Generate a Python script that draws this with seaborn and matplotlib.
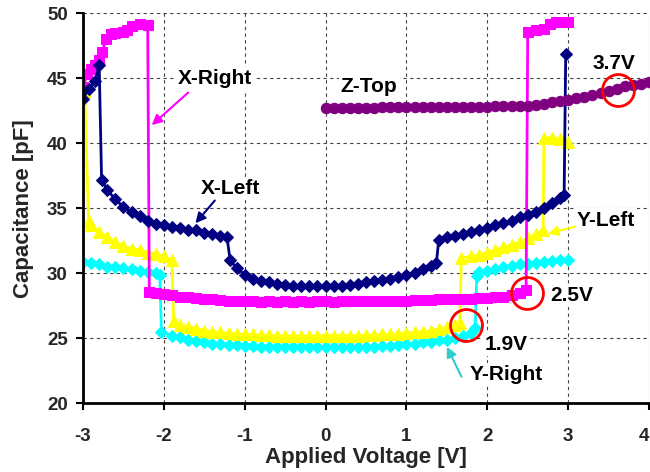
import matplotlib
matplotlib.use("Agg")
import matplotlib.pyplot as plt
import seaborn as sns
import numpy as np

# ---------------- data ----------------
xleft_v = [-3.0, -2.93, -2.85, -2.80, -2.77, -2.7, -2.6, -2.5, -2.4, -2.3, -2.2, -2.1, -2.0,
           -1.9, -1.8, -1.7, -1.6, -1.5, -1.4, -1.3, -1.22, -1.18, -1.1, -1.0, -0.9, -0.8,
           -0.7, -0.6, -0.5, -0.4, -0.3, -0.2, -0.1, 0.0, 0.1, 0.2, 0.3, 0.4, 0.5, 0.6, 0.7,
           0.8, 0.9, 1.0, 1.1, 1.2, 1.3, 1.37, 1.40, 1.5, 1.6, 1.7, 1.8, 1.9, 2.0, 2.1, 2.2,
           2.3, 2.4, 2.5, 2.6, 2.7, 2.8, 2.9, 2.95, 2.97]
xleft_c = [43.4, 44.2, 44.8, 46.0, 37.2, 36.4, 35.7, 35.1, 34.7, 34.4, 34.0, 33.8, 33.7,
           33.6, 33.5, 33.3, 33.3, 33.1, 33.0, 32.9, 32.8, 31.0, 30.4, 29.9, 29.6, 29.4,
           29.3, 29.2, 29.1, 29.0, 29.0, 29.0, 29.0, 29.0, 29.0, 29.05, 29.1, 29.15, 29.3, 29.4, 29.5,
           29.6, 29.7, 29.85, 30.0, 30.3, 30.6, 30.8, 32.6, 32.8, 32.9, 33.0, 33.2, 33.3, 33.5, 33.7, 33.9,
           34.0, 34.3, 34.5, 34.7, 35.0, 35.4, 35.8, 36.0, 46.9]

xright_v = [-3.0, -2.95, -2.9, -2.85, -2.8, -2.76, -2.72, -2.65, -2.6, -2.5, -2.45, -2.4, -2.3,
            -2.2, -2.18, -2.1, -2.0, -1.9, -1.8, -1.7, -1.6, -1.5, -1.4, -1.3, -1.2, -1.1, -1.0,
            -0.9, -0.8, -0.7, -0.6, -0.5, -0.4, -0.3, -0.2, -0.1, 0.0, 0.1, 0.2, 0.3, 0.4, 0.5,
            0.6, 0.7, 0.8, 0.9, 1.0, 1.1, 1.2, 1.3, 1.4, 1.5, 1.6, 1.7, 1.8, 1.9, 2.0, 2.1, 2.2,
            2.3, 2.4, 2.48, 2.50, 2.6, 2.7, 2.77, 2.85, 2.95, 3.0]
xright_c = [44.3, 45.3, 45.7, 46.0, 46.4, 47.0, 48.0, 48.4, 48.5, 48.6, 48.7, 49.0, 49.2,
            49.1, 28.6, 28.5, 28.4, 28.3, 28.2, 28.15, 28.1, 28.0, 28.0, 27.95, 27.9, 27.9, 27.85,
            27.85, 27.8, 27.85, 27.8, 27.85, 27.8, 27.85, 27.8, 27.85, 27.85, 27.8, 27.85, 27.85, 27.85, 27.9,
            27.85, 27.9, 27.9, 27.9, 27.9, 27.95, 27.95, 27.95, 28.0, 28.0, 28.0, 28.05, 28.05, 28.1, 28.1, 28.15, 28.2,
            28.3, 28.5, 28.7, 48.6, 48.7, 48.8, 49.2, 49.3, 49.3, 49.3]

yleft_v = [-2.98, -2.93, -2.9, -2.8, -2.7, -2.6, -2.5, -2.4, -2.3, -2.2, -2.1, -2.0, -1.9,
           -1.88, -1.8, -1.7, -1.6, -1.5, -1.4, -1.3, -1.2, -1.1, -1.0, -0.9, -0.8, -0.7, -0.6,
           -0.5, -0.4, -0.3, -0.2, -0.1, 0.0, 0.1, 0.2, 0.3, 0.4, 0.5, 0.6, 0.7, 0.8, 0.9, 1.0,
           1.1, 1.2, 1.3, 1.4, 1.5, 1.6, 1.66, 1.68, 1.8, 1.9, 2.0, 2.1, 2.2, 2.3, 2.4, 2.5,
           2.6, 2.69, 2.7, 2.8, 2.9, 3.0]
yleft_c = [44.0, 34.0, 33.7, 33.2, 32.8, 32.4, 32.1, 31.9, 31.8, 31.6, 31.5, 31.3, 31.0,
           26.3, 26.0, 25.9, 25.75, 25.6, 25.5, 25.45, 25.4, 25.35, 25.3, 25.3, 25.25, 25.25, 25.2,
           25.2, 25.2, 25.2, 25.2, 25.2, 25.2, 25.2, 25.2, 25.2, 25.2, 25.25, 25.25, 25.3, 25.3, 25.35, 25.4,
           25.45, 25.5, 25.6, 25.7, 25.85, 26.0, 26.2, 31.2, 31.3, 31.4, 31.6, 31.8, 32.0, 32.2, 32.4, 32.7,
           33.0, 33.3, 40.4, 40.4, 40.3, 40.1]

yright_v = [-3.0, -2.9, -2.8, -2.7, -2.6, -2.5, -2.4, -2.3, -2.2, -2.1, -2.05, -2.03, -1.9,
            -1.8, -1.7, -1.6, -1.5, -1.4, -1.3, -1.2, -1.1, -1.0, -0.9, -0.8, -0.7, -0.6, -0.5,
            -0.4, -0.3, -0.2, -0.1, 0.0, 0.1, 0.2, 0.3, 0.4, 0.5, 0.6, 0.7, 0.8, 0.9, 1.0, 1.1,
            1.2, 1.3, 1.4, 1.5, 1.6, 1.7, 1.8, 1.85, 1.87, 1.9, 2.0, 2.1, 2.2, 2.3, 2.4, 2.5,
            2.6, 2.7, 2.8, 2.9, 3.0]
yright_c = [30.9, 30.8, 30.7, 30.5, 30.5, 30.4, 30.3, 30.2, 30.1, 30.0, 29.9, 25.5, 25.2,
            25.1, 24.9, 24.8, 24.7, 24.6, 24.55, 24.5, 24.45, 24.4, 24.4, 24.35, 24.35, 24.35, 24.3,
            24.3, 24.3, 24.3, 24.3, 24.3, 24.3, 24.3, 24.3, 24.35, 24.35, 24.35, 24.4, 24.4, 24.5, 24.55, 24.6,
            24.7, 24.75, 24.85, 24.9, 25.0, 25.2, 25.4, 25.8, 29.8, 30.1, 30.2, 30.35, 30.5, 30.6, 30.7, 30.75,
            30.8, 30.9, 30.95, 31.0, 31.05]

ztop_v = [0.0, 0.1, 0.2, 0.3, 0.4, 0.5, 0.6, 0.7, 0.8, 0.9, 1.0, 1.1, 1.2, 1.3, 1.4, 1.5, 1.6,
          1.7, 1.8, 1.9, 2.0, 2.1, 2.2, 2.3, 2.4, 2.5, 2.6, 2.7, 2.8, 2.9, 3.0, 3.1, 3.2, 3.3,
          3.4, 3.5, 3.6, 3.7, 3.8, 3.9, 4.0]
ztop_c = [42.75, 42.75, 42.75, 42.75, 42.75, 42.75, 42.75, 42.8, 42.8, 42.8, 42.8, 42.8, 42.8,
          42.8, 42.8, 42.8, 42.8, 42.8, 42.8, 42.8, 42.8, 42.85, 42.85, 42.85, 42.85, 42.9, 42.95,
          43.05, 43.15, 43.25, 43.35, 43.45, 43.55, 43.7, 43.85, 44.0, 44.2, 44.4, 44.5, 44.6, 44.7]

x_ticks = [-3, -2, -1, 0, 1, 2, 3, 4]
y_ticks = [20, 25, 30, 35, 40, 45, 50]

labels = ["X-Right", "X-Left", "Z-Top", "Y-Left", "Y-Right", "3.7V", "2.5V", "1.9V"]
label_pos = [(-1.37, 44.95), (-1.18, 36.5), (0.54, 44.35), (3.46, 34.1), (2.24, 22.2),
             (3.56, 46.15), (3.04, 28.3), (2.23, 24.5)]
arrows = [((-1.70, 43.9), (-2.15, 41.4), "#ff00ff"),
          ((-1.37, 35.6), (-1.61, 33.85), "#000080"),
          ((3.09, 33.6), (2.75, 33.05), "#ffff00"),
          ((1.68, 22.05), (1.50, 24.35), "#33cccc")]
circle_v = [3.62, 2.49, 1.74]
circle_c = [44.1, 28.46, 26.0]

# ---------------- style ----------------
sns.set_theme(style="white")
plt.rcParams['font.family'] = ['Liberation Sans', 'DejaVu Sans']
plt.rcParams['font.weight'] = 'bold'
plt.rcParams['axes.unicode_minus'] = False

fig = plt.figure(figsize=(6.5, 4.72), dpi=100)
ax = fig.add_axes([0.1277, 0.1455, 0.8708, 0.8263])

series = [
    (yright_v, yright_c, "#00ffff", "D", 6),
    (yleft_v, yleft_c, "#ffff00", "^", 8),
    (xright_v, xright_c, "#ff00ff", "s", 7.5),
    (xleft_v, xleft_c, "#000080", "D", 6),
    (ztop_v, ztop_c, "#800080", "o", 7.5),
]
for xs, ys, col, mk, ms in series:
    sns.lineplot(x=xs, y=ys, ax=ax, sort=False, estimator=None, color=col,
                 marker=mk, markersize=ms, markeredgecolor=col, linewidth=2)

ax.set_xlim(-3, 4)
ax.set_ylim(20, 50)
ax.set_xticks(x_ticks)
ax.set_yticks(y_ticks)
ax.grid(True, linestyle=(0, (3, 3)), color="#444444", linewidth=0.8)
for s in ["top", "right"]:
    ax.spines[s].set_visible(False)
for s in ["left", "bottom"]:
    ax.spines[s].set_color("black")
    ax.spines[s].set_linewidth(2)
ax.tick_params(axis='both', direction='out', length=5, width=1.5, color='black',
               labelsize=13.5, left=True, bottom=True)
ax.tick_params(axis='x', pad=13)
ax.tick_params(axis='y', pad=6)
for lab in ax.get_xticklabels() + ax.get_yticklabels():
    lab.set_fontweight('bold')
ax.get_xticklabels()[-1].set_horizontalalignment('right')

ax.set_xlabel("Applied Voltage [V]", fontsize=16, fontweight='bold', labelpad=1)
ax.set_ylabel("Capacitance [pF]", fontsize=16, fontweight='bold', labelpad=9)

for txt, (tx, ty) in zip(labels, label_pos):
    ax.text(tx, ty, txt, ha='center', va='center', fontsize=15, fontweight='bold',
            color='black', zorder=6,
            bbox=dict(facecolor='white', edgecolor='none', pad=1.5))

for (p0, p1, col) in arrows:
    ax.annotate('', xy=p1, xytext=p0,
                arrowprops=dict(arrowstyle='-|>,head_length=0.5,head_width=0.25',
                                color=col, lw=1.5, shrinkA=0, shrinkB=0), zorder=7)

ax.plot(circle_v, circle_c, linestyle='none', marker='o', markersize=23,
        markerfacecolor='none', markeredgecolor='#ff0000', markeredgewidth=2, zorder=8)

fig.savefig("out.png", dpi=100)
